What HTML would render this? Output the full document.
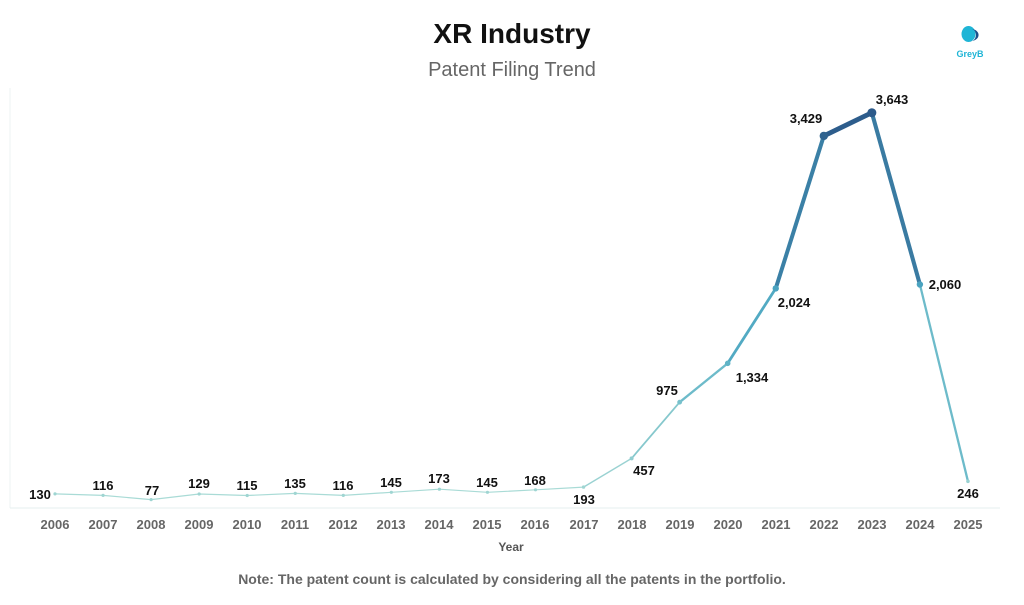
<!DOCTYPE html>
<html><head><meta charset="utf-8"><style>
body{margin:0;background:#fff;width:1024px;height:600px;overflow:hidden;font-family:"Liberation Sans","DejaVu Sans",sans-serif}
</style></head><body>
<svg width="1024" height="600" xmlns="http://www.w3.org/2000/svg" font-family="Liberation Sans, DejaVu Sans, sans-serif">
<text x="512" y="43" text-anchor="middle" font-size="28" font-weight="bold" fill="#111">XR Industry</text>
<text x="512" y="76" text-anchor="middle" font-size="20" fill="#666">Patent Filing Trend</text>
<g>
<path d="M968 26 a7 8 0 1 0 1 0z" fill="#1fb5d6"/>
<path d="M972 29 a4 5 0 0 1 -2 12 a5 4 0 0 0 2 -12z" fill="#1a4e8a"/>
<text x="970" y="57" text-anchor="middle" font-size="9" font-weight="bold" fill="#1fb5d6">GreyB</text>
</g>
<line x1="10" y1="88" x2="10" y2="508" stroke="#eef3f3"/>
<line x1="10" y1="508" x2="1000" y2="508" stroke="#e6efef"/>
<g fill="none" stroke-linecap="round" stroke-linejoin="round">
<polyline points="55,493.9 103.05,495.4 151.1,499.6 199.15,494 247.2,495.5 295.25,493.4 343.3,495.4 391.35,492.3 439.4,489.2 487.45,492.3 535.5,489.8 583.55,487.1" stroke="#a9dbd6" stroke-width="1.2"/>
<line x1="583.55" y1="487.1" x2="631.6" y2="458.4" stroke="#9ad2d2" stroke-width="1.4"/>
<line x1="631.6" y1="458.4" x2="679.65" y2="402.2" stroke="#86c8cd" stroke-width="1.8"/>
<line x1="679.65" y1="402.2" x2="727.7" y2="363.3" stroke="#6dbbca" stroke-width="2.3"/>
<line x1="727.7" y1="363.3" x2="775.75" y2="288.4" stroke="#52aac3" stroke-width="2.8"/>
<line x1="775.75" y1="288.4" x2="823.8" y2="135.9" stroke="#3b80a6" stroke-width="4"/>
<line x1="823.8" y1="135.9" x2="871.85" y2="112.7" stroke="#2d5d8c" stroke-width="4.9"/>
<line x1="871.85" y1="112.7" x2="919.9" y2="284.5" stroke="#3a7ba2" stroke-width="4.1"/>
<line x1="919.9" y1="284.5" x2="967.95" y2="481.3" stroke="#6dbbca" stroke-width="2.3"/>
</g>
<g fill="#9fd5d2">
<circle cx="55" cy="493.9" r="1.6"/><circle cx="103.05" cy="495.4" r="1.6"/><circle cx="151.1" cy="499.6" r="1.6"/>
<circle cx="199.15" cy="494" r="1.6"/><circle cx="247.2" cy="495.5" r="1.6"/><circle cx="295.25" cy="493.4" r="1.6"/>
<circle cx="343.3" cy="495.4" r="1.6"/><circle cx="391.35" cy="492.3" r="1.6"/><circle cx="439.4" cy="489.2" r="1.6"/>
<circle cx="487.45" cy="492.3" r="1.6"/><circle cx="535.5" cy="489.8" r="1.6"/><circle cx="583.55" cy="487.1" r="1.7"/>
<circle cx="631.6" cy="458.4" r="2" fill="#90cdd0"/><circle cx="679.65" cy="402.2" r="2.4" fill="#78c1cc"/>
<circle cx="727.7" cy="363.3" r="2.8" fill="#5fb3c6"/><circle cx="775.75" cy="288.4" r="3.2" fill="#4aa3c0"/>
<circle cx="823.8" cy="135.9" r="4.2" fill="#30638f"/><circle cx="871.85" cy="112.7" r="4.5" fill="#2c5a8a"/>
<circle cx="919.9" cy="284.5" r="3.2" fill="#4aa3c0"/><circle cx="967.95" cy="481.3" r="1.8" fill="#9ad2d2"/>
</g>
<g font-size="13" font-weight="bold" fill="#111" text-anchor="middle">
<text x="40" y="499">130</text><text x="103" y="490">116</text><text x="152" y="495">77</text>
<text x="199" y="488">129</text><text x="247" y="490">115</text><text x="295" y="488">135</text>
<text x="343" y="490">116</text><text x="391" y="487">145</text><text x="439" y="483">173</text>
<text x="487" y="487">145</text><text x="535" y="485">168</text><text x="584" y="504">193</text>
<text x="644" y="475">457</text><text x="667" y="395">975</text><text x="752" y="382">1,334</text>
<text x="794" y="307">2,024</text><text x="806" y="123">3,429</text><text x="892" y="104">3,643</text>
<text x="945" y="289">2,060</text><text x="968" y="498">246</text>
</g>
<g font-size="13" font-weight="bold" fill="#666" text-anchor="middle">
<text x="55" y="529">2006</text><text x="103" y="529">2007</text><text x="151" y="529">2008</text>
<text x="199" y="529">2009</text><text x="247" y="529">2010</text><text x="295" y="529">2011</text>
<text x="343" y="529">2012</text><text x="391" y="529">2013</text><text x="439" y="529">2014</text>
<text x="487" y="529">2015</text><text x="535" y="529">2016</text><text x="584" y="529">2017</text>
<text x="632" y="529">2018</text><text x="680" y="529">2019</text><text x="728" y="529">2020</text>
<text x="776" y="529">2021</text><text x="824" y="529">2022</text><text x="872" y="529">2023</text>
<text x="920" y="529">2024</text><text x="968" y="529">2025</text>
</g>
<text x="511" y="551" text-anchor="middle" font-size="12" font-weight="bold" fill="#555">Year</text>
<text x="512" y="584" text-anchor="middle" font-size="14" font-weight="bold" fill="#666">Note: The patent count is calculated by considering all the patents in the portfolio.</text>
</svg>
</body></html>
